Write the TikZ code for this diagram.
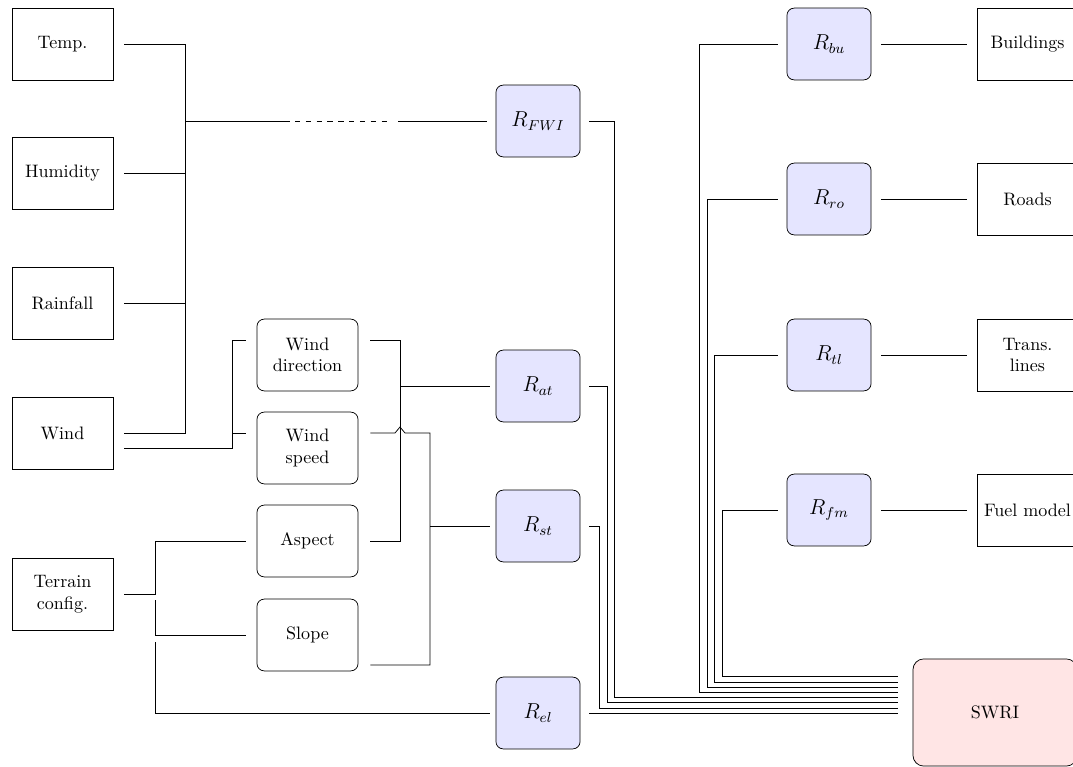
\documentclass[tikz,border=0pt]{standalone}
\usepackage{tikz}
\usetikzlibrary{calc}

\tikzset{
  inbox/.style={draw, minimum width=1.97cm, minimum height=1.40cm, align=center},
  featbox/.style={inbox, rounded corners=4pt},
  riskbox/.style={draw, rounded corners=4pt, fill=blue!10, minimum width=1.64cm, minimum height=1.40cm, font=\large},
  swribox/.style={draw, rounded corners=6pt, fill=red!10, minimum width=3.2cm, minimum height=2.09cm}
}

\begin{document}
\begin{tikzpicture}[x=0.0195cm, y=-0.0195cm]
      \useasboundingbox (0,0) rectangle (1073,767);
      % inputs
      \node[inbox] (temp) at (62.5,44) {Temp.};
      \node[inbox] (hum) at (62.5,173) {Humidity};
      \node[inbox] (rain) at (62.5,303) {Rainfall};
      \node[inbox] (wind) at (62.5,433) {Wind};
      \node[inbox] (terrain) at (62.5,594) {Terrain\\config.};
      % derived features
      \node[featbox] (wdir) at (307.5,355) {Wind\\direction};
      \node[featbox] (wspd) at (307.5,448) {Wind\\speed};
      \node[featbox] (aspect) at (307.5,541) {Aspect};
      \node[featbox] (slope) at (307.5,635) {Slope};
      % risk factors
      \node[riskbox] (rfwi) at (538,121) {\(R_{FWI}\)};
      \node[riskbox] (rat) at (538,386) {\(R_{at}\)};
      \node[riskbox] (rst) at (538,526) {\(R_{st}\)};
      \node[riskbox] (rel) at (538,713) {\(R_{el}\)};
      \node[riskbox] (rbu) at (829,44) {\(R_{bu}\)};
      \node[riskbox] (rro) at (829,199) {\(R_{ro}\)};
      \node[riskbox] (rtl) at (829,355) {\(R_{tl}\)};
      \node[riskbox] (rfm) at (829,510) {\(R_{fm}\)};
      % exposure layers
      \node[inbox] (bld) at (1027.5,44) {Buildings};
      \node[inbox] (roads) at (1027.5,199) {Roads};
      \node[inbox] (trans) at (1027.5,355) {Trans.\\lines};
      \node[inbox] (fuel) at (1027.5,510) {Fuel model};
      \node[swribox] (swri) at (995,712.5) {SWRI};

      % weather bus
      \coordinate (busA) at (185,121);
      \draw ($(temp.east)+(11,0)$) -| (185,433) -- ($(wind.east)+(11,0)$);
      \draw foreach \s in {hum,rain}{($(\s.east)+(11,0)$) -- (\s.east -| busA)};
      \draw (busA) -- (290,121);
      \draw[dashed] (295,121) -- (392,121);
      \draw (398,121) -- ($(rfwi.west)+(-9,0)$);

      % wind split
      \draw ($(wind.east)+(11,15)$) -| (232,340) -- ($(wdir.west)+(-11,-15)$);
      \draw (232,433) -- ($(wspd.west)+(-11,-15)$);

      % to R_at and R_st
      \draw ($(wdir.east)+(12,-15)$) -| (400,541) -- ($(aspect.east)+(12,0)$);
      \draw (400,386) -- ($(rat.west)+(-6,0)$);
      \draw ($(wspd.east)+(12,-15)$) -- (395,433) -- (400,427) -- (405,433) -| (430,665) -- ($(slope.east)+(12,30)$);
      \draw (430,526) -- ($(rst.west)+(-6,0)$);

      % terrain split
      \draw ($(terrain.east)+(11,0)$) -| (155,541) -- ($(aspect.west)+(-11,0)$);
      \draw (155,600) |- ($(slope.west)+(-11,0)$);
      \draw (155,642) |- ($(rel.west)+(-6,0)$);

      % bundle into SWRI
      \draw foreach \n/\bx/\by in {rfwi/614/697, rat/607/702, rst/599/708}{
        ($(\n.east)+(9,0)$) -| (\bx,\by) -- (898,\by)};
      \draw ($(rel.east)+(9,0)$) -- (898,713);
      \draw foreach \n/\bx/\by in {rbu/699/692, rro/707/687, rtl/714/682, rfm/722/676}{
        ($(\n.west)+(-9,0)$) -| (\bx,\by) -- (898,\by)};
      \draw foreach \n/\m in {rbu/bld, rro/roads, rtl/trans, rfm/fuel}{
        ($(\n.east)+(10,0)$) -- ($(\m.west)+(-10,0)$)};
    \end{tikzpicture}
\end{document}
